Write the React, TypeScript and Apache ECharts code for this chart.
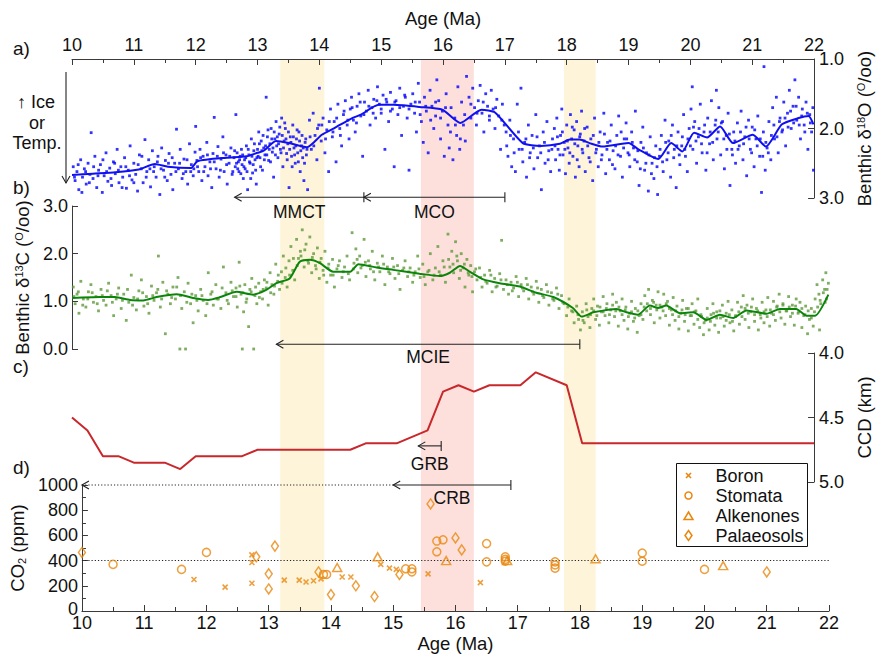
import React, { useEffect, useRef } from 'react';
import * as echarts from 'echarts';

const FONT = "'Liberation Sans', Arial, Helvetica, sans-serif";

// ---------- Panel a: benthic d18O (age Ma, permil) ----------
const d18oPoints: number[][] = [
  [10.02,2.55],[10.05,2.75],[10.08,2.62],[10.11,2.88],[10.14,2.45],[10.17,2.70],[10.2,2.58],[10.23,2.80],[10.26,2.50],[10.29,2.66],[10.31,2.06],[10.34,2.72],[10.37,2.40],[10.4,2.85],[10.43,2.60],[10.46,2.52],[10.49,2.92],[10.52,2.68],[10.55,2.35],[10.58,2.76],[10.61,2.57],[10.64,2.82],[10.67,2.48],[10.7,2.65],[10.73,2.30],[10.76,2.78],[10.79,2.55],[10.82,2.70],[10.85,2.42],[10.88,2.86],[10.91,2.60],[10.94,2.25],[10.97,2.74],[11.0,2.50],[11.03,2.66],[11.06,2.90],[11.09,2.38],[11.12,2.58],[11.15,2.78],[11.18,2.16],[11.21,2.62],[11.24,2.45],[11.27,2.84],[11.3,2.32],[11.33,2.55],[11.36,2.70],[11.39,2.40],[11.42,2.95],[11.45,2.28],[11.48,2.60],[11.51,2.46],[11.54,2.75],[11.57,2.36],[11.6,2.66],[11.63,2.88],[11.66,2.50],[11.69,2.01],[11.72,2.58],[11.75,2.30],[11.78,2.72],[11.81,2.44],[11.84,2.62],[11.87,2.80],[11.9,2.22],[11.93,2.52],[11.96,2.68],[11.99,2.34],[12.0,1.97],
  [12.02,2.46],[12.05,2.62],[12.07,2.30],[12.1,2.75],[12.12,2.40],[12.15,2.55],[12.18,2.20],[12.2,2.68],[12.23,2.48],[12.26,2.85],[12.28,2.36],[12.3,1.84],[12.33,2.58],[12.36,2.26],[12.38,2.70],[12.41,2.44],[12.44,2.12],[12.46,2.62],[12.49,2.38],[12.51,2.80],[12.54,2.50],[12.57,2.28],[12.59,2.66],[12.62,2.42],[12.64,2.55],[12.65,1.80],[12.67,2.35],[12.69,2.48],[12.7,2.62],[12.72,2.40],[12.74,2.30],[12.75,2.52],[12.77,2.72],[12.79,2.45],[12.8,2.58],[12.82,2.25],[12.84,2.88],[12.86,2.38],[12.88,2.50],[12.9,2.15],[12.92,2.64],[12.94,2.32],[12.96,2.45],[12.98,2.80],
  [13.0,2.30],[13.02,2.05],[13.04,2.42],[13.06,2.18],[13.08,2.60],[13.1,2.28],[13.12,2.38],[13.14,1.55],[13.16,2.12],[13.18,2.46],[13.2,2.22],[13.22,2.00],[13.24,2.34],[13.26,2.70],[13.28,2.15],[13.3,1.90],[13.31,2.25],[13.33,2.42],[13.35,2.08],[13.37,2.30],[13.39,1.85],[13.41,2.55],[13.43,2.18],[13.45,2.00],[13.47,2.36],[13.49,2.22],[13.51,2.85],[13.53,2.12],[13.55,2.40],[13.57,1.95],[13.59,2.28],[13.61,2.50],[13.63,2.15],[13.65,2.35],[13.67,2.05],[13.69,2.62],[13.71,2.25],[13.73,2.42],[13.75,2.75],[13.77,2.20],[13.79,2.38],[13.81,2.88],
  [13.84,1.88],[13.87,2.30],[13.9,1.78],[13.93,2.10],[13.96,2.45],[13.99,1.95],[14.0,1.42],[14.03,2.18],[14.06,1.85],[14.09,2.35],[14.12,2.02],[14.15,2.62],[14.18,1.72],[14.21,2.12],[14.24,1.90],[14.27,2.48],[14.3,1.65],[14.33,2.00],[14.36,2.25],[14.39,1.80],[14.42,1.60],[14.45,1.95],[14.48,2.15],[14.5,1.72],
  [14.52,1.55],[14.55,1.88],[14.58,2.05],[14.61,1.68],[14.64,1.50],[14.67,1.82],[14.7,2.40],[14.73,1.62],[14.76,1.75],[14.79,1.45],[14.82,1.95],[14.85,1.70],[14.88,1.58],[14.91,1.85],[14.94,1.40],[14.97,1.65],[15.0,1.78],[15.03,1.52],[15.06,2.30],[15.09,1.62],[15.12,1.90],[15.15,1.48],[15.18,1.72],[15.21,2.55],[15.24,1.60],[15.27,1.80],[15.3,1.42],[15.33,2.10],[15.36,1.68],[15.39,1.55],[15.42,1.85],[15.45,2.60],[15.48,1.65],
  [15.51,1.50],[15.54,1.78],[15.57,2.05],[15.6,1.35],[15.62,1.62],[15.65,1.90],[15.68,2.20],[15.7,1.55],[15.73,1.75],[15.76,2.35],[15.79,1.45],[15.82,1.68],[15.85,2.00],[15.88,1.82],[15.9,1.30],[15.93,1.60],[15.96,2.15],[15.99,1.75],[16.02,2.40],[16.05,1.50],[16.08,1.95],[16.1,2.28],[16.13,1.70],[16.16,2.45],[16.19,1.85],[16.22,2.10],[16.24,1.40],[16.27,2.30],[16.3,1.62],[16.33,1.95],[16.36,2.18],[16.38,1.25],
  [16.42,1.55],[16.45,1.85],[16.48,1.42],[16.51,1.70],[16.54,1.95],[16.57,1.60],[16.6,1.38],[16.63,1.78],[16.66,2.05],[16.69,1.50],[16.72,1.68],[16.75,1.88],[16.78,1.45],[16.81,1.72],[16.84,2.00],[16.87,1.58],[16.9,1.82],[16.93,2.30],[16.96,1.65],[16.99,1.95],
  [17.02,2.05],[17.05,2.40],[17.08,1.88],[17.11,2.55],[17.14,2.15],[17.17,2.62],[17.2,1.65],[17.23,2.30],[17.26,1.42],[17.29,2.48],[17.32,2.20],[17.35,2.70],[17.38,1.95],[17.41,2.35],[17.44,2.10],[17.47,2.58],[17.5,1.80],[17.53,2.42],[17.56,2.25],[17.59,2.88],[17.62,2.05],[17.65,2.50],[17.68,1.90],[17.71,2.32],[17.74,2.62],[17.77,2.15],
  [17.8,2.00],[17.82,2.45],[17.84,1.85],[17.86,2.30],[17.88,2.60],[17.9,2.10],[17.92,1.72],[17.94,2.38],[17.96,2.20],[17.98,2.65],[18.0,1.95],[18.02,2.28],[18.04,2.50],[18.06,1.80],[18.08,2.15],[18.1,2.40],[18.12,2.02],[18.14,2.70],[18.16,1.90],[18.18,2.25],[18.2,2.55],[18.22,2.08],[18.24,1.75],[18.26,2.35],[18.28,2.18],[18.3,2.62],[18.33,1.98],[18.36,2.42],[18.39,2.15],[18.42,2.75],[18.45,1.85],[18.48,2.30],[18.51,2.55],[18.54,2.05],[18.57,2.38],[18.6,1.78],[18.63,2.65],[18.66,2.20],[18.69,2.45],[18.72,1.95],[18.75,2.32],[18.78,2.58],[18.81,2.10],[18.84,1.82],[18.87,2.40],[18.9,2.70],[18.93,2.15],[18.96,1.92],[18.99,2.35],[19.02,2.55],[19.05,2.05],[19.08,2.28],[19.11,1.75],[19.14,2.48],[19.17,2.82],[19.2,2.20],[19.23,1.98],[19.26,2.60],[19.29,2.35],[19.32,2.90],[19.35,2.12],[19.38,2.50],[19.41,2.72],[19.44,2.25],[19.47,2.95],[19.5,2.40],[19.53,2.10],[19.56,2.62],[19.59,1.88],[19.62,2.45],[19.65,2.18],[19.68,2.70],[19.71,1.95],[19.74,2.30],[19.77,2.85],[19.8,2.05],[19.83,2.52],[19.86,2.25],[19.89,1.80],[19.92,2.40],[19.95,2.62],[19.98,2.00],
  [20.01,1.72],[20.03,1.40],[20.04,2.30],[20.07,1.90],[20.1,2.50],[20.13,2.12],[20.16,1.65],[20.19,2.35],[20.22,2.05],[20.25,2.60],[20.28,1.85],[20.31,2.22],[20.34,1.60],[20.37,2.45],[20.4,1.95],[20.42,1.45],[20.43,2.15],[20.46,1.70],[20.49,2.38],[20.52,1.90],[20.55,2.58],[20.58,2.10],[20.61,1.78],[20.64,2.82],[20.67,2.30],[20.7,2.05],[20.73,2.50],[20.76,1.92],[20.79,2.25],[20.82,1.75],[20.85,2.45],[20.88,2.12],[20.91,2.68],[20.94,1.88],[20.97,2.30],[21.0,1.98],[21.03,2.55],[21.06,2.15],[21.09,1.82],[21.12,2.40],[21.15,2.92],[21.18,2.05],[21.19,1.11],[21.21,2.60],[21.24,2.28],[21.27,1.90],[21.3,2.45],[21.33,1.70],[21.36,2.15],[21.39,1.55],[21.42,2.35],[21.45,1.85],[21.48,2.05],[21.51,1.62],[21.54,2.25],[21.57,1.78],[21.6,1.45],[21.63,2.00],[21.66,1.68],[21.69,1.30],[21.72,1.88],[21.75,1.55],[21.78,2.15],[21.81,1.72],[21.84,1.95],[21.87,1.62],[21.9,2.30],[21.93,1.80],[21.96,2.05],[21.99,2.60]
];
const d18oPointsCore: number[][] = [
  [10.04,2.70],[10.1,2.52],[10.16,2.92],[10.22,2.62],[10.28,2.78],[10.35,2.55],[10.42,2.68],[10.5,2.45],[10.56,2.62],[10.63,2.72],[10.69,2.50],[10.75,2.60],[10.81,2.85],[10.87,2.55],[10.93,2.68],[11.0,2.78],[11.07,2.52],[11.13,2.40],[11.2,2.70],[11.26,2.58],[11.32,2.62],[11.38,2.48],[11.44,2.58],[11.5,2.70],[11.56,2.50],[11.62,2.42],[11.68,2.62],[11.74,2.50],[11.8,2.65],[11.86,2.45],[11.92,2.62],[11.97,2.58],
  [12.03,2.55],[12.08,2.42],[12.13,2.62],[12.19,2.38],[12.24,2.58],[12.3,2.48],[12.35,2.40],[12.4,2.60],[12.45,2.35],[12.5,2.52],[12.55,2.40],[12.6,2.62],[12.63,2.32],[12.66,2.50],[12.68,2.58],[12.71,2.45],[12.73,2.65],[12.76,2.38],[12.78,2.55],[12.81,2.42],[12.83,2.62],[12.85,2.30],[12.87,2.48],[12.89,2.72],[12.91,2.40],[12.93,2.52],[12.95,2.22],[12.97,2.60],[12.99,2.42],
  [13.01,2.40],[13.03,2.22],[13.05,2.55],[13.07,2.32],[13.09,2.10],[13.11,2.45],[13.13,2.25],[13.15,2.38],[13.17,2.02],[13.19,2.30],[13.21,2.48],[13.23,2.15],[13.25,2.28],[13.27,2.05],[13.29,2.38],[13.32,2.12],[13.34,2.22],[13.36,1.98],[13.38,2.35],[13.4,2.10],[13.42,2.28],[13.44,1.92],[13.46,2.15],[13.48,2.45],[13.5,2.05],[13.52,2.30],[13.54,2.20],[13.56,2.55],[13.58,2.12],[13.6,2.38],[13.62,2.25],[13.64,2.02],[13.66,2.48],[13.68,2.18],[13.7,2.32],[13.72,2.10],[13.74,2.28],[13.76,2.50],[13.78,2.15],[13.8,2.30],
  [13.85,2.12],[13.91,2.25],[13.97,2.00],[14.04,1.95],[14.1,2.15],[14.16,1.90],[14.22,2.05],[14.28,1.85],[14.34,2.10],[14.4,1.75],[14.46,1.88],[14.53,1.70],[14.6,1.92],[14.66,1.62],[14.72,1.80],[14.8,1.68],[14.87,1.78],[14.93,1.60],[15.0,1.72],[15.08,1.58],[15.15,1.75],[15.22,1.62],[15.3,1.70],[15.38,1.52],[15.45,1.72],[15.55,1.62],[15.63,1.80],[15.72,1.68],[15.8,1.88],[15.88,1.62],[15.96,1.85],[16.04,1.70],[16.12,2.05],[16.2,1.95],[16.28,2.15],[16.35,1.80],[16.45,1.65],[16.55,1.78],[16.65,1.62],[16.75,1.82],[16.85,1.70],[16.95,1.88],
  [17.03,2.25],[17.09,2.10],[17.15,2.35],[17.22,2.05],[17.28,2.30],[17.34,2.15],[17.4,2.42],[17.46,2.28],[17.52,2.12],[17.58,2.35],[17.64,2.20],[17.7,2.45],[17.76,2.30],
  [17.81,2.25],[17.85,2.12],[17.89,2.38],[17.93,2.05],[17.97,2.30],[18.01,2.18],[18.05,2.35],[18.09,1.98],[18.13,2.22],[18.17,2.45],[18.21,2.12],[18.25,2.30],[18.29,2.00],[18.34,2.25],[18.38,2.48],[18.43,2.10],[18.47,2.35],[18.52,2.20],[18.56,2.45],[18.61,2.08],[18.65,2.30],[18.7,2.18],[18.74,2.52],[18.79,2.25],[18.83,2.38],[18.88,2.05],[18.92,2.28],[18.97,2.15],[19.01,2.38],[19.06,2.20],[19.1,2.45],[19.15,2.32],[19.19,2.58],[19.24,2.28],[19.28,2.50],[19.33,2.38],[19.37,2.65],[19.42,2.42],[19.46,2.55],[19.51,2.30],[19.55,2.48],[19.6,2.20],[19.64,2.35],[19.69,2.10],[19.73,2.42],[19.78,2.25],[19.82,2.38],[19.87,2.12],[19.91,2.30],[19.96,2.15],
  [20.0,2.25],[20.05,1.98],[20.09,2.18],[20.14,2.00],[20.18,2.22],[20.23,1.95],[20.27,2.35],[20.32,2.05],[20.36,2.20],[20.41,1.88],[20.45,2.05],[20.5,1.92],[20.54,2.15],[20.59,2.30],[20.63,2.08],[20.68,2.38],[20.72,2.18],[20.77,2.30],[20.81,2.05],[20.86,2.22],[20.9,1.98],[20.95,2.15],[20.99,2.35],[21.04,2.02],[21.08,2.25],[21.13,2.15],[21.17,2.40],[21.22,2.20],[21.26,2.35],[21.31,2.10],[21.35,1.95],[21.4,2.12],[21.44,1.90],[21.49,2.02],[21.53,1.85],[21.58,1.98],[21.62,1.75],[21.67,1.92],[21.71,1.68],[21.76,1.95],[21.8,1.82],[21.85,2.05],[21.89,1.78],[21.94,1.92],[21.98,1.70]
];
const d18oSmooth: number[][] = [
  [10.0,2.67],[10.34,2.65],[10.7,2.63],[11.08,2.59],[11.34,2.51],[11.55,2.55],[11.92,2.57],[12.03,2.47],[12.5,2.42],[12.82,2.40],[13.0,2.35],[13.1,2.32],[13.3,2.18],[13.51,2.21],[13.8,2.27],[14.04,2.09],[14.25,1.99],[14.51,1.86],[14.67,1.80],[14.96,1.66],[15.2,1.66],[15.62,1.69],[15.99,1.73],[16.28,1.92],[16.62,1.73],[16.84,1.77],[17.29,2.21],[17.58,2.25],[17.89,2.22],[18.05,2.16],[18.21,2.16],[18.37,2.21],[18.58,2.26],[19.0,2.21],[19.16,2.30],[19.48,2.44],[19.69,2.21],[19.87,2.33],[20.06,2.06],[20.27,2.13],[20.48,1.97],[20.69,2.21],[21.01,2.09],[21.22,2.26],[21.48,1.94],[21.75,1.85],[21.91,1.82],[21.99,1.94]
];

// ---------- Panel b: benthic d13C ----------
const d13cPoints: number[][] = [
  [10.02,1.30],[10.05,0.95],[10.08,1.15],[10.11,0.75],[10.14,1.42],[10.18,1.05],[10.22,0.88],[10.26,1.20],[10.3,1.35],[10.34,0.98],[10.38,1.10],[10.42,0.80],[10.46,1.25],[10.5,1.02],[10.54,0.92],[10.58,1.38],[10.62,1.12],[10.66,0.70],[10.7,1.05],[10.74,1.28],[10.78,0.85],[10.82,1.15],[10.86,0.60],[10.9,0.98],[10.94,1.55],[10.98,1.08],[11.02,0.82],[11.06,1.22],[11.1,1.45],[11.14,0.90],[11.18,1.10],[11.22,0.75],[11.26,1.32],[11.3,1.02],[11.34,1.18],[11.37,1.95],[11.4,0.88],[11.44,1.40],[11.48,0.32],[11.52,1.15],[11.56,0.95],[11.6,1.30],[11.64,1.05],[11.68,1.50],[11.71,0.0],[11.74,0.85],[11.78,1.20],[11.8,0.0],[11.84,1.38],[11.88,0.95],[11.92,0.55],[11.96,1.12],[12.0,0.80],[12.04,1.25],[12.08,1.02],[12.12,0.70],[12.16,1.60],[12.2,1.15],[12.24,0.92],[12.28,1.35],[12.32,1.05],[12.36,0.85],[12.4,1.72],[12.44,1.18],[12.48,0.95],[12.52,1.40],[12.56,1.10],[12.6,1.28],[12.62,0.88],[12.65,1.82],[12.68,1.15],[12.7,0.0],[12.72,0.78],[12.74,1.35],[12.77,1.05],[12.8,0.47],[12.82,1.25],[12.85,1.48],[12.88,0.0],[12.9,1.12],[12.93,0.95],[12.96,1.38],[12.99,1.20],
  [13.02,1.05],[13.05,1.45],[13.08,1.28],[13.11,0.92],[13.14,1.60],[13.17,1.35],[13.2,1.15],[13.23,1.78],[13.26,1.42],[13.29,1.25],[13.32,1.62],[13.35,1.95],[13.38,1.50],[13.41,1.30],[13.44,1.85],[13.47,2.15],[13.5,1.65],[13.53,1.45],[13.56,2.30],[13.59,1.90],[13.62,2.05],[13.65,2.50],[13.68,1.72],[13.71,2.20],[13.74,1.85],[13.77,2.35],[13.8,1.60],[13.83,2.00],[13.86,1.75],[13.89,2.12],[13.92,1.48],[13.95,1.90],[13.98,1.65],[14.01,2.05],[14.04,1.40],[14.07,1.78],[14.1,1.55],[14.13,1.88],[14.16,1.30],[14.2,1.68],[14.24,1.85],[14.28,1.50],[14.32,1.72],[14.36,1.95],[14.4,1.45],[14.44,2.44],[14.47,1.80],[14.5,2.10],[14.53,1.60],[14.56,1.95],[14.6,1.75],[14.63,2.30],[14.66,1.52],[14.7,1.85],[14.73,1.68],[14.76,2.05],[14.8,1.45],[14.84,1.80],[14.88,1.62],[14.92,1.95],[14.96,1.35],[15.0,1.72],[15.04,1.58],[15.08,1.90],[15.12,1.48],[15.16,1.75],[15.2,1.25],[15.24,1.65],[15.28,1.85],[15.32,1.52],[15.36,1.70],[15.4,1.40],[15.44,1.62],[15.48,1.95],[15.52,1.50],[15.56,1.78],[15.6,1.35],[15.64,1.62],[15.68,2.00],[15.72,1.45],[15.76,1.70],[15.8,2.15],[15.84,1.55],[15.88,1.85],[15.92,1.40],[15.96,2.41],[15.99,1.72],[16.02,2.05],[16.05,1.60],[16.08,2.25],[16.11,1.85],[16.14,1.48],[16.17,2.00],[16.2,1.70],[16.23,1.30],[16.26,1.88],[16.29,1.55],[16.32,1.75],[16.35,1.20],[16.38,1.62],[16.42,1.45],[16.46,1.70],[16.5,1.30],[16.54,1.55],[16.58,1.38],[16.62,1.65],[16.66,1.20],[16.7,1.48],[16.74,1.32],[16.78,1.58],[16.81,2.28],[16.84,1.25],[16.88,1.45],[16.92,1.15],[16.96,1.40],[17.0,1.28],[17.04,1.52],[17.08,1.10],[17.12,1.35],[17.16,1.22],[17.2,1.48],[17.24,1.05],[17.28,1.30],[17.32,1.15],[17.36,1.42],[17.4,0.98],[17.44,1.25],[17.48,1.08],[17.52,1.35],[17.56,0.92],[17.6,1.18],[17.64,1.02],[17.68,1.28],[17.72,0.85],[17.76,1.12],[17.8,0.95],[17.84,0.70],[17.88,1.05],[17.92,0.80],[17.96,0.55],[18.0,0.90],[18.03,0.62],[18.06,0.40],[18.09,0.78],[18.12,0.55],[18.15,0.95],[18.18,0.68],
  [18.21,0.45],[18.24,0.85],[18.27,1.05],[18.3,0.62],[18.33,0.90],[18.36,0.50],[18.39,0.78],[18.42,1.10],[18.45,0.70],[18.48,0.95],[18.51,0.55],[18.54,0.82],[18.57,1.15],[18.6,0.68],[18.63,0.98],[18.66,0.48],[18.69,0.80],[18.72,1.05],[18.75,0.60],[18.78,0.88],[18.81,0.42],[18.84,0.75],[18.87,1.00],[18.9,0.58],[18.93,0.85],[18.96,0.35],[18.99,0.70],[19.02,0.95],[19.05,0.62],[19.08,1.12],[19.11,0.80],[19.14,1.25],[19.17,0.72],[19.2,1.02],[19.23,0.55],[19.26,0.92],[19.29,1.20],[19.32,0.65],[19.35,0.88],[19.38,1.15],[19.41,0.70],[19.44,1.00],[19.47,0.50],[19.5,0.82],[19.53,1.08],[19.56,0.60],[19.59,0.90],[19.62,0.42],[19.65,0.75],[19.68,1.02],[19.71,0.58],[19.74,0.85],[19.77,0.38],[19.8,0.70],[19.83,0.95],[19.86,0.52],[19.89,0.80],[19.92,1.05],[19.95,0.45],[19.98,0.68],[20.01,0.30],[20.04,0.60],[20.07,0.85],[20.1,0.40],[20.13,0.72],[20.16,0.95],[20.19,0.50],[20.22,0.78],[20.25,0.35],[20.28,0.65],[20.31,0.92],[20.34,0.48],[20.37,0.75],[20.4,1.00],[20.43,0.55],[20.46,0.82],[20.49,0.38],[20.52,0.68],[20.55,0.98],[20.58,0.52],[20.61,0.88],[20.64,1.12],[20.67,0.62],[20.7,0.92],[20.73,0.45],[20.76,0.78],[20.79,1.05],[20.82,0.58],[20.85,0.85],[20.88,0.40],[20.91,0.72],[20.94,0.98],[20.97,0.55],[21.0,0.82],[21.03,1.08],[21.06,0.48],[21.09,0.75],[21.12,1.00],[21.15,0.60],[21.18,0.90],[21.21,1.15],[21.24,0.65],[21.27,0.95],[21.3,0.52],[21.33,0.80],[21.36,1.10],[21.39,0.68],[21.42,0.92],[21.45,0.50],[21.48,1.05],[21.51,0.75],[21.54,0.98],[21.57,0.45],[21.6,0.70],[21.63,0.90],[21.66,0.32],[21.69,0.62],[21.72,0.85],[21.75,0.48],[21.78,1.05],[21.81,1.35],[21.84,1.15],[21.85,0.40],[21.87,0.95],[21.9,1.45],[21.93,1.25],[21.95,1.60],[21.96,1.05],[21.99,1.38]
];
const d13cPointsCore: number[][] = [
  [10.03,1.10],[10.1,1.20],[10.17,0.92],[10.25,1.05],[10.32,1.18],[10.4,0.95],[10.48,1.12],[10.56,1.22],[10.64,0.98],[10.72,1.15],[10.8,1.02],[10.88,1.25],[10.96,0.92],[11.04,1.05],[11.12,1.18],[11.2,0.95],[11.28,1.12],[11.36,1.25],[11.42,1.05],[11.5,1.22],[11.58,1.08],[11.66,1.30],[11.72,1.12],[11.82,0.98],[11.9,1.15],[11.98,1.02],[12.06,1.12],[12.14,0.95],[12.22,1.20],[12.3,1.05],[12.38,1.28],[12.46,1.02],[12.54,1.22],[12.6,1.10],[12.66,1.32],[12.71,1.18],[12.76,0.98],[12.84,1.20],[12.91,1.30],[12.97,1.08],
  [13.03,1.25],[13.09,1.40],[13.15,1.18],[13.21,1.32],[13.27,1.55],[13.33,1.38],[13.39,1.70],[13.45,1.55],[13.51,1.90],[13.57,1.75],[13.63,1.95],[13.69,2.08],[13.75,1.80],[13.81,1.92],[13.87,1.68],[13.93,1.82],[13.99,1.55],[14.06,1.70],[14.14,1.55],[14.22,1.75],[14.3,1.62],[14.38,1.58],[14.46,1.68],[14.52,1.88],[14.58,1.70],[14.65,1.82],[14.72,1.75],[14.78,1.62],[14.86,1.72],[14.94,1.78],[15.02,1.62],[15.1,1.72],[15.18,1.58],[15.26,1.70],[15.34,1.62],[15.42,1.55],[15.5,1.68],[15.58,1.52],[15.66,1.65],[15.74,1.55],[15.82,1.62],[15.9,1.72],[15.97,1.88],[16.04,1.78],[16.1,1.95],[16.16,1.65],[16.22,1.78],[16.28,1.60],[16.34,1.52],[16.4,1.68],[16.48,1.50],[16.56,1.42],[16.64,1.55],[16.72,1.30],[16.8,1.45],[16.9,1.35],[16.98,1.22],[17.06,1.40],[17.14,1.28],[17.22,1.35],[17.3,1.20],[17.38,1.28],[17.46,1.12],[17.54,1.20],[17.62,1.05],[17.7,1.15],[17.78,0.98],[17.86,0.88],[17.94,0.78],[18.02,0.72],[18.1,0.60],[18.16,0.82],
  [18.22,0.72],[18.27,0.80],[18.32,0.70],[18.37,0.88],[18.42,0.78],[18.47,0.85],[18.52,0.72],[18.57,0.92],[18.62,0.80],[18.67,0.88],[18.72,0.72],[18.77,0.82],[18.82,0.68],[18.87,0.78],[18.92,0.65],[18.97,0.80],[19.02,0.72],[19.07,0.88],[19.12,0.95],[19.17,0.85],[19.22,0.98],[19.27,0.82],[19.32,0.92],[19.37,0.80],[19.42,0.95],[19.47,0.85],[19.52,0.72],[19.57,0.80],[19.62,0.68],[19.67,0.82],[19.72,0.72],[19.77,0.85],[19.82,0.70],[19.87,0.78],[19.92,0.62],[19.97,0.72],[20.02,0.55],[20.07,0.65],[20.12,0.58],[20.17,0.75],[20.22,0.65],[20.27,0.80],[20.32,0.68],[20.37,0.60],[20.42,0.72],[20.47,0.58],[20.52,0.70],[20.57,0.78],[20.62,0.68],[20.67,0.85],[20.72,0.75],[20.77,0.88],[20.82,0.72],[20.87,0.80],[20.92,0.65],[20.97,0.78],[21.02,0.68],[21.07,0.82],[21.12,0.72],[21.17,0.88],[21.22,0.78],[21.27,0.92],[21.32,0.80],[21.37,0.88],[21.42,0.75],[21.47,0.90],[21.52,0.78],[21.57,0.85],[21.62,0.72],[21.67,0.80],[21.72,0.65],[21.77,0.78],[21.82,0.88],[21.86,1.02],[21.91,1.18],[21.94,0.98],[21.97,1.25]
];
const d13cSmooth: number[][] = [
  [10.0,1.07],[10.44,1.09],[10.68,1.09],[10.92,1.03],[11.13,1.02],[11.34,1.09],[11.66,1.15],[11.92,1.07],[12.16,1.03],[12.35,1.09],[12.61,1.20],[12.87,1.14],[13.08,1.24],[13.24,1.38],[13.45,1.48],[13.61,1.83],[13.77,1.87],[13.93,1.80],[14.14,1.62],[14.41,1.62],[14.54,1.78],[14.83,1.71],[15.09,1.66],[15.51,1.58],[15.83,1.53],[15.99,1.60],[16.15,1.74],[16.31,1.62],[16.52,1.46],[16.78,1.38],[17.10,1.31],[17.36,1.18],[17.63,1.09],[17.94,0.86],[18.08,0.68],[18.21,0.74],[18.26,0.77],[18.63,0.84],[18.79,0.77],[18.97,0.72],[19.16,0.91],[19.29,0.86],[19.42,0.91],[19.64,0.75],[19.85,0.77],[20.06,0.61],[20.27,0.72],[20.48,0.65],[20.69,0.81],[21.01,0.74],[21.22,0.84],[21.48,0.84],[21.64,0.70],[21.78,0.70],[21.99,1.14]
];

// ---------- Panel c: CCD (km) ----------
const ccdAge = [10.0,10.25,10.5,10.75,11.0,11.5,11.75,12.0,12.75,13.0,14.5,14.75,15.25,15.75,16.0,16.25,16.5,16.75,17.25,17.5,18.0,18.25,22.0];
const ccdDepth = [4.5,4.6,4.8,4.8,4.85,4.85,4.9,4.8,4.8,4.75,4.75,4.7,4.7,4.6,4.3,4.25,4.3,4.25,4.25,4.15,4.25,4.7,4.7];

// ---------- Panel d: CO2 (ppm) by proxy ----------
const boron: number[][] = [[11.8,250],[12.3,190],[12.73,445],[12.73,385],[12.73,220],[13.25,245],[13.49,245],[13.6,230],[13.72,240],[13.84,255],[14.18,270],[14.32,270],[14.8,370],[14.94,340],[15.05,330],[15.56,295],[16.4,225]];
const stomata: number[][] = [[10.5,370],[11.6,330],[12.0,465],[13.88,290],[13.93,290],[15.2,335],[15.3,335],[15.3,310],[15.7,555],[15.8,565],[15.7,470],[16.5,535],[16.5,390],[16.8,430],[16.8,410],[16.8,395],[17.6,390],[17.6,365],[17.6,340],[19.0,460],[19.0,395],[20.0,330]];
const alkenones: number[][] = [[14.1,345],[14.75,430],[15.85,400],[16.83,400],[18.25,415],[20.3,360]];
const palaeosols: number[][] = [[10.0,465],[12.8,430],[13.1,515],[13.0,295],[13.0,175],[13.8,310],[14.0,130],[14.4,200],[14.7,115],[15.1,290],[15.6,850],[16.0,580],[16.1,485],[21.0,310]];
const co2Reference = 400;

// ---------- Shaded intervals & events ----------
const bandStart = [13.3, 15.53, 17.8];
const bandEnd = [14.0, 16.37, 18.3];
const bandKind = ['cool', 'warm', 'cool'];
const eventName = ['MMCT', 'MCO', 'MCIE', 'GRB', 'CRB'];
const eventStart = [12.63, 14.72, 13.24, 15.6, 15.0];
const eventEnd = [14.72, 17.0, 18.05, 15.97, 16.89];
const eventLevel = [2.99, 2.99, 0.1, 4.72, 1000];
const co2LimitStart = 10.0;
const co2LimitEnd = 15.0;

const ORANGE = '#e8870e';
const AXIS = '#3a3a3a';
const BAND_COLORS: Record<string, string> = { cool: '#fdf4da', warm: '#fde0dc' };
const LABEL_DY = [15, 15, 13, 18, 13];
const TICK_FS = 18;
const NAME_FS = 18.5;
const NOTE_FS = 17.5;

const tickLabel = { fontFamily: FONT, fontSize: TICK_FS, color: '#111', lineHeight: 10 };

function arrowSeries(axisIdx: number, idx: number[], dotted = false, bar = true, withLabel = true, rows?: number[][]) {
  const data = rows ?? idx.map((i) => [eventStart[i], eventEnd[i], eventLevel[i]]);
  return {
    type: 'custom',
    xAxisIndex: axisIdx,
    yAxisIndex: axisIdx,
    clip: false,
    silent: true,
    z: 8,
    data,
    encode: { x: [0, 1], y: 2 },
    renderItem: (params: any, api: any) => {
      const a = api.coord([api.value(0), api.value(2)]);
      const b = api.coord([api.value(1), api.value(2)]);
      const st = { stroke: '#222', lineWidth: 1.1, fill: 'none' } as any;
      const children: any[] = [
        { type: 'line', shape: { x1: a[0], y1: a[1], x2: b[0], y2: b[1] }, style: dotted ? { ...st, lineDash: [1.2, 2] } : st },
        { type: 'polyline', shape: { points: [[a[0] + 7, a[1] - 4], [a[0], a[1]], [a[0] + 7, a[1] + 4]] }, style: st },
      ];
      if (bar) children.push({ type: 'line', shape: { x1: b[0], y1: b[1] - 5, x2: b[0], y2: b[1] + 5 }, style: st });
      if (withLabel) {
        const ei = idx[params.dataIndex];
        children.push({
          type: 'text',
          style: { text: eventName[ei], x: (a[0] + b[0]) / 2, y: a[1] + LABEL_DY[ei], align: 'center', verticalAlign: 'middle', fontFamily: FONT, fontSize: NOTE_FS, fill: '#111' },
        });
      }
      return { type: 'group', children };
    },
  };
}

export default function App() {
  const ref = useRef<HTMLDivElement>(null);
  useEffect(() => {
    if (!ref.current) return;
    const chart = echarts.init(ref.current, null as any, { renderer: 'svg' });
    const L = 72, R = 53;
    const grids = [
      { left: L, right: R, top: 59, height: 139 },
      { left: L, right: R, top: 206, height: 143 },
      { left: L, right: R, top: 353, height: 129 },
      { left: L, right: R, top: 485, height: 127 },
      { left: L, right: R, top: 59, height: 553 },
    ];
    const axisLine = { show: true, lineStyle: { color: AXIS, width: 1 } };
    const baseX = { type: 'value', min: 10, max: 22, interval: 1, splitLine: { show: false } };
    const shownX = (pos: string, name: string, gap: number) => ({
      ...baseX,
      position: pos,
      z: 10,
      axisLine,
      axisTick: { show: true, inside: true, length: 6, lineStyle: { color: AXIS } },
      minorTick: { show: true, splitNumber: 2, length: 4, lineStyle: { color: AXIS } },
      axisLabel: { ...tickLabel, margin: pos === 'top' ? 9 : 7 },
      name,
      nameLocation: 'middle',
      nameGap: gap,
      nameTextStyle: { fontFamily: FONT, fontSize: NAME_FS, color: '#111' },
    });
    const hiddenX = (g: number) => ({ ...baseX, gridIndex: g, show: false });

    const rich = {
      t: { fontFamily: FONT, fontSize: NAME_FS, color: '#111' },
      sup: { fontFamily: FONT, fontSize: 11, color: '#111', verticalAlign: 'top' },
      sub: { fontFamily: FONT, fontSize: 11, color: '#111', verticalAlign: 'bottom' },
    };
    const yTick = { show: true, inside: true, length: 6, lineStyle: { color: AXIS } };

    const option: any = {
      animation: false,
      textStyle: { fontFamily: FONT },
      grid: grids,
      xAxis: [
        { ...shownX('top', 'Age (Ma)', 31), gridIndex: 0 },
        hiddenX(1),
        hiddenX(2),
        { ...shownX('bottom', 'Age (Ma)', 23), gridIndex: 3 },
        hiddenX(4),
      ],
      yAxis: [
        {
          type: 'value', gridIndex: 0, position: 'right', inverse: true, min: 1, max: 3, interval: 1,
          axisLine, axisTick: yTick, splitLine: { show: false },
          axisLabel: { ...tickLabel, margin: 5, formatter: (v: number) => v.toFixed(1) },
          name: '{t|Benthic δ}{sup|18}{t|O (}{sup|O}{t|/oo)}', nameLocation: 'middle', nameGap: 33,
          nameTextStyle: { rich },
        },
        {
          type: 'value', gridIndex: 1, position: 'left', min: 0, max: 3, interval: 1,
          axisLine, axisTick: yTick, splitLine: { show: false },
          axisLabel: { ...tickLabel, margin: 4, formatter: (v: number) => v.toFixed(1) },
          name: '{t|Benthic δ}{sup|13}{t|C (}{sup|O}{t|/oo)}', nameLocation: 'middle', nameGap: 34,
          nameTextStyle: { rich },
        },
        {
          type: 'value', gridIndex: 2, position: 'right', inverse: true, min: 4, max: 5, interval: 0.5,
          axisLine, axisTick: yTick, splitLine: { show: false },
          axisLabel: { ...tickLabel, margin: 5, formatter: (v: number) => v.toFixed(1) },
          name: 'CCD (km)', nameLocation: 'middle', nameGap: 34,
          nameTextStyle: { fontFamily: FONT, fontSize: NAME_FS, color: '#111' },
        },
        {
          type: 'value', gridIndex: 3, position: 'left', min: 0, max: 1000, interval: 200,
          axisLine, axisTick: yTick, splitLine: { show: false },
          minorTick: { show: true, splitNumber: 2, length: 4, lineStyle: { color: AXIS } },
          axisLabel: {
            ...tickLabel, margin: 4,
            formatter: (v: number) => (v === 0 ? '{z|0}' : String(v)),
            rich: { z: { fontFamily: FONT, fontSize: TICK_FS, color: '#111', lineHeight: 10, padding: [0, 0, 4, 0] } },
          },
          name: '{t|CO}{sub|2}{t| (ppm)}', nameLocation: 'middle', nameGap: 40,
          nameTextStyle: { rich },
        },
        { type: 'value', gridIndex: 4, min: 0, max: 1, show: false },
      ],
      series: [
        {
          type: 'custom', xAxisIndex: 4, yAxisIndex: 4, z: 0, silent: true,
          data: bandStart.map((s, i) => [s, bandEnd[i], 0]),
          encode: { x: [0, 1], y: 2 },
          renderItem: (params: any, api: any) => {
            const cs = params.coordSys;
            const s = api.coord([api.value(0), 0]);
            const e = api.coord([api.value(1), 0]);
            return { type: 'rect', shape: { x: s[0], y: cs.y, width: e[0] - s[0], height: cs.height }, style: { fill: BAND_COLORS[bandKind[params.dataIndex]] } };
          },
        },
        {
          type: 'scatter', xAxisIndex: 0, yAxisIndex: 0, data: d18oPoints.concat(d18oPointsCore), symbol: 'rect', symbolSize: 2.8,
          itemStyle: { color: '#0000ff' }, silent: true, z: 3,
        },
        {
          type: 'line', xAxisIndex: 0, yAxisIndex: 0, data: d18oSmooth, showSymbol: false, smooth: 0.2,
          lineStyle: { color: '#1010ee', width: 2 }, silent: true, z: 4,
        },
        {
          type: 'scatter', xAxisIndex: 1, yAxisIndex: 1, data: d13cPoints.concat(d13cPointsCore), symbol: 'rect', symbolSize: 2.8,
          itemStyle: { color: '#5f9a3c' }, silent: true, z: 3,
        },
        {
          type: 'line', xAxisIndex: 1, yAxisIndex: 1, data: d13cSmooth, showSymbol: false, smooth: 0.2,
          lineStyle: { color: '#0a850a', width: 2 }, silent: true, z: 4,
        },
        {
          type: 'line', xAxisIndex: 2, yAxisIndex: 2, data: ccdAge.map((a, i) => [a, ccdDepth[i]]), showSymbol: false,
          lineStyle: { color: '#c8272b', width: 2 }, silent: true, z: 4,
        },
        {
          name: 'Boron', type: 'scatter', xAxisIndex: 3, yAxisIndex: 3, data: boron,
          symbol: 'path://M0,0L10,10M10,0L0,10', symbolSize: 5,
          itemStyle: { color: 'rgba(0,0,0,0)', borderColor: ORANGE, borderWidth: 1.6 }, z: 5,
          markLine: {
            silent: true, symbol: ['none', 'none'], label: { show: false },
            lineStyle: { color: '#222', type: [1.2, 2], width: 1 },
            data: [{ yAxis: co2Reference }],
          },
        },
        {
          name: 'Stomata', type: 'scatter', xAxisIndex: 3, yAxisIndex: 3, data: stomata,
          symbol: 'circle', symbolSize: 8,
          itemStyle: { color: 'rgba(0,0,0,0)', borderColor: ORANGE, borderWidth: 1.5 }, z: 5,
        },
        {
          name: 'Alkenones', type: 'scatter', xAxisIndex: 3, yAxisIndex: 3, data: alkenones,
          symbol: 'triangle', symbolSize: [9, 8],
          itemStyle: { color: 'rgba(0,0,0,0)', borderColor: ORANGE, borderWidth: 1.5 }, z: 5,
        },
        {
          name: 'Palaeosols', type: 'scatter', xAxisIndex: 3, yAxisIndex: 3, data: palaeosols,
          symbol: 'diamond', symbolSize: [7, 10],
          itemStyle: { color: 'rgba(0,0,0,0)', borderColor: ORANGE, borderWidth: 1.5 }, z: 5,
        },
        arrowSeries(0, [0, 1]),
        arrowSeries(1, [2]),
        arrowSeries(2, [3]),
        arrowSeries(3, [4]),
        arrowSeries(3, [4], true, false, false, [[co2LimitStart, co2LimitEnd, eventLevel[4]]]),
      ],
      graphic: [
        { type: 'text', x: 13, y: 48, style: { text: 'a)', verticalAlign: 'middle', fontFamily: FONT, fontSize: 19, fill: '#111' } },
        { type: 'text', x: 13, y: 187, style: { text: 'b)', verticalAlign: 'middle', fontFamily: FONT, fontSize: 19, fill: '#111' } },
        { type: 'text', x: 13, y: 366, style: { text: 'c)', verticalAlign: 'middle', fontFamily: FONT, fontSize: 19, fill: '#111' } },
        { type: 'text', x: 13, y: 467, style: { text: 'd)', verticalAlign: 'middle', fontFamily: FONT, fontSize: 19, fill: '#111' } },
        { type: 'text', x: 36, y: 102, style: { text: '↑ Ice', align: 'center', verticalAlign: 'middle', fontFamily: FONT, fontSize: 18, fill: '#111' } },
        { type: 'text', x: 37, y: 123, style: { text: 'or', align: 'center', verticalAlign: 'middle', fontFamily: FONT, fontSize: 18, fill: '#111' } },
        { type: 'text', x: 37, y: 143, style: { text: 'Temp.', align: 'center', verticalAlign: 'middle', fontFamily: FONT, fontSize: 18, fill: '#111' } },
        { type: 'line', shape: { x1: 66, y1: 72, x2: 66, y2: 183 }, style: { stroke: '#222', lineWidth: 1.1 } },
        { type: 'polyline', shape: { points: [[62, 176], [66, 183], [70, 176]] }, style: { stroke: '#222', lineWidth: 1.1, fill: 'none' } },
        {
          type: 'group', left: 676, top: 463, z: 20,
          children: [
            { type: 'rect', shape: { x: 0, y: 0, width: 131, height: 83 }, style: { fill: '#fff', stroke: '#111', lineWidth: 1 } },
            { type: 'line', shape: { x1: 9.5, y1: 9.5, x2: 14.5, y2: 14.5 }, style: { stroke: ORANGE, lineWidth: 1.6 } },
            { type: 'line', shape: { x1: 14.5, y1: 9.5, x2: 9.5, y2: 14.5 }, style: { stroke: ORANGE, lineWidth: 1.6 } },
            { type: 'circle', shape: { cx: 12, cy: 32, r: 3.5 }, style: { fill: 'none', stroke: ORANGE, lineWidth: 1.5 } },
            { type: 'polygon', shape: { points: [[12, 48.5], [16.5, 56], [7.5, 56]] }, style: { fill: 'none', stroke: ORANGE, lineWidth: 1.5 } },
            { type: 'polygon', shape: { points: [[12, 67], [15.5, 72], [12, 77], [8.5, 72]] }, style: { fill: 'none', stroke: ORANGE, lineWidth: 1.5 } },
            { type: 'text', x: 39, y: 12, style: { text: 'Boron', verticalAlign: 'middle', fontFamily: FONT, fontSize: 18, fill: '#111' } },
            { type: 'text', x: 39, y: 32, style: { text: 'Stomata', verticalAlign: 'middle', fontFamily: FONT, fontSize: 18, fill: '#111' } },
            { type: 'text', x: 39, y: 52, style: { text: 'Alkenones', verticalAlign: 'middle', fontFamily: FONT, fontSize: 18, fill: '#111' } },
            { type: 'text', x: 39, y: 72, style: { text: 'Palaeosols', verticalAlign: 'middle', fontFamily: FONT, fontSize: 18, fill: '#111' } },
          ],
        },
      ],
    };
    chart.setOption(option);
    return () => chart.dispose();
  }, []);
  return <div ref={ref} style={{ position: 'fixed', left: 0, top: 0, width: 882, height: 654, background: '#fff' }} />;
}
